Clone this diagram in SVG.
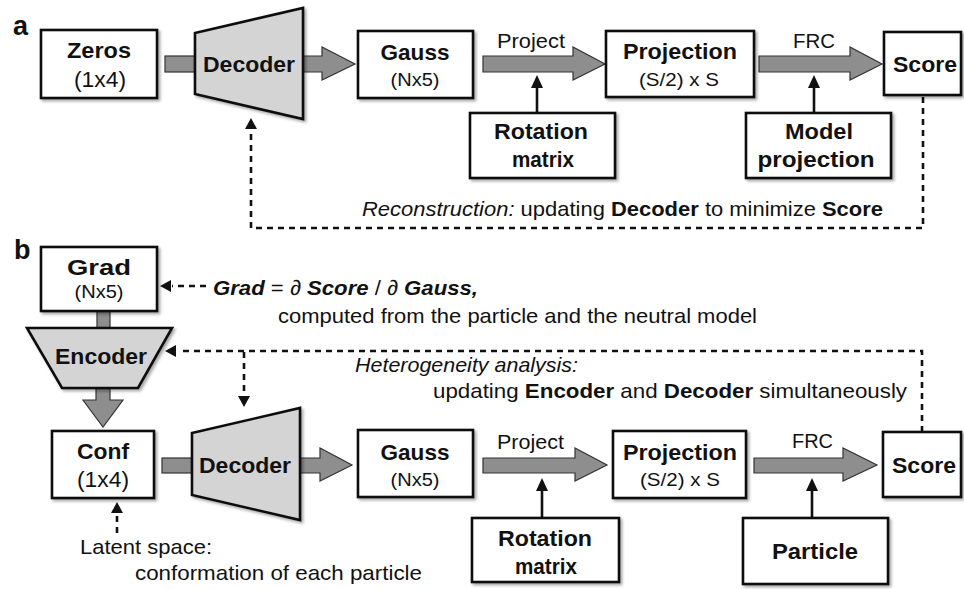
<svg xmlns="http://www.w3.org/2000/svg" width="964" height="589" viewBox="0 0 964 589">
<defs>
<filter id="sh" x="-10%" y="-10%" width="130%" height="130%">
<feDropShadow dx="2" dy="2" stdDeviation="1.5" flood-color="#000" flood-opacity="0.35"/>
</filter>
</defs>
<style>
text{font-family:"Liberation Sans",Arial,Helvetica,sans-serif;fill:#111}
.box{fill:#fff;stroke:#111;stroke-width:2.6;filter:url(#sh)}
.net{fill:#d4d4d4;stroke:#111;stroke-width:2.6;filter:url(#sh)}
.ga{fill:#8e8e8e;stroke:#333;stroke-width:1.2;stroke-linejoin:miter}
.t{font-size:22px;font-weight:bold;text-anchor:middle}
.s{font-size:19px;text-anchor:middle}
.m{font-size:22px;text-anchor:middle}
.l{font-size:21px}
.lab{font-size:27px;font-weight:bold}
.sol{stroke:#111;stroke-width:2.6;fill:none}
.dash{stroke:#111;stroke-width:2.6;fill:none;stroke-dasharray:6 5}
.head{fill:#111}
.b{font-weight:bold}
.i{font-style:italic}
.bi{font-weight:bold;font-style:italic}
</style>

<text class="lab" x="13" y="35">a</text>
<text class="lab" x="14" y="259">b</text>

<!-- connectors -->
<g id="connectors">
  <!-- part a -->
  <rect class="ga" x="165" y="56" width="32" height="16"/>
  <polygon class="ga" points="302,56 322,56 322,47 355,64 322,80 322,72 302,72"/>
  <polygon class="ga" points="483,56 573,56 573,47 605,64 573,80 573,72 483,72"/>
  <polygon class="ga" points="759,56 850,56 850,47 882,64 850,80 850,72 759,72"/>
  <line class="sol" x1="537" y1="113" x2="537" y2="86"/>
  <polygon class="head" points="537,75 531,88 543,88"/>
  <line class="sol" x1="814" y1="113" x2="814" y2="86"/>
  <polygon class="head" points="814,75 808,88 820,88"/>
  <polyline class="dash" points="923,97 923,228 251,228 251,130"/>
  <polygon class="head" points="251,118 245,129 257,129"/>
  <!-- part b -->
  <rect class="ga" x="97" y="310" width="13" height="19"/>
  <polygon class="ga" points="96,387 110,387 110,400 123,400 103,427 83,400 96,400"/>
  <rect class="ga" x="162" y="458" width="32" height="15"/>
  <polygon class="ga" points="299,458 320,458 320,448 352,465 320,481 320,473 299,473"/>
  <polygon class="ga" points="483,458 575,458 575,448 607,465 575,481 575,473 483,473"/>
  <polygon class="ga" points="754,458 843,458 843,448 877,465 843,481 843,473 754,473"/>
  <line class="sol" x1="542" y1="518" x2="542" y2="490"/>
  <polygon class="head" points="542,478 536,491 548,491"/>
  <line class="sol" x1="812" y1="518" x2="812" y2="490"/>
  <polygon class="head" points="812,478 806,491 818,491"/>
  <line class="dash" x1="206" y1="286" x2="172" y2="286"/>
  <polygon class="head" points="160,286 171,280 171,292"/>
  <polyline class="dash" points="922,432 922,351 178,351"/>
  <polygon class="head" points="165,351 176,345 176,357"/>
  <line class="dash" x1="244" y1="352" x2="244" y2="396"/>
  <polygon class="head" points="244,407 238,396 250,396"/>
  <line class="dash" x1="117" y1="533" x2="117" y2="513"/>
  <polygon class="head" points="117,502 111,513 123,513"/>
</g>

<!-- part a nodes -->
<g id="zeros">
  <rect class="box" x="41" y="30" width="116" height="68"/>
  <text class="t" x="99" y="58" textLength="64" lengthAdjust="spacingAndGlyphs">Zeros</text>
  <text class="m" x="100" y="87" textLength="52" lengthAdjust="spacingAndGlyphs">(1x4)</text>
</g>
<g id="decoder-a">
  <polygon class="net" points="195,33 303,8 303,119 195,94"/>
  <text class="t" x="249" y="72" textLength="92" lengthAdjust="spacingAndGlyphs">Decoder</text>
</g>
<g id="gauss-a">
  <rect class="box" x="358" y="31" width="115" height="67"/>
  <text class="t" x="415" y="60" textLength="69" lengthAdjust="spacingAndGlyphs">Gauss</text>
  <text class="s" x="415" y="86" textLength="49" lengthAdjust="spacingAndGlyphs">(Nx5)</text>
</g>
<g id="rotation-a">
  <rect class="box" x="470" y="113" width="145" height="65"/>
  <text class="t" x="541" y="139" textLength="94" lengthAdjust="spacingAndGlyphs">Rotation</text>
  <text class="t" x="543" y="167" textLength="62" lengthAdjust="spacingAndGlyphs">matrix</text>
</g>
<text class="l" x="497" y="48" textLength="68" lengthAdjust="spacingAndGlyphs">Project</text>
<g id="projection-a">
  <rect class="box" x="606" y="31" width="148" height="66"/>
  <text class="t" x="680" y="59" textLength="114" lengthAdjust="spacingAndGlyphs">Projection</text>
  <text class="s" x="679" y="86" textLength="80" lengthAdjust="spacingAndGlyphs">(S/2) x S</text>
</g>
<text class="l" x="793" y="48" textLength="42" lengthAdjust="spacingAndGlyphs">FRC</text>
<g id="model-projection">
  <rect class="box" x="746" y="113" width="145" height="65"/>
  <text class="t" x="819" y="139" textLength="68" lengthAdjust="spacingAndGlyphs">Model</text>
  <text class="t" x="816" y="167" textLength="117" lengthAdjust="spacingAndGlyphs">projection</text>
</g>
<g id="score-a">
  <rect class="box" x="884" y="32" width="77" height="63"/>
  <text class="t" x="925" y="72" textLength="64" lengthAdjust="spacingAndGlyphs">Score</text>
</g>
<text class="l" x="362" y="216" textLength="521" lengthAdjust="spacingAndGlyphs"><tspan class="i">Reconstruction:</tspan> updating <tspan class="b">Decoder</tspan> to minimize <tspan class="b">Score</tspan></text>

<!-- part b nodes -->
<g id="grad">
  <rect class="box" x="41" y="247" width="116" height="64"/>
  <text class="t" x="99" y="275" textLength="64" lengthAdjust="spacingAndGlyphs">Grad</text>
  <text class="s" x="99" y="298" textLength="49" lengthAdjust="spacingAndGlyphs">(Nx5)</text>
</g>
<text class="l" x="213" y="295" textLength="265" lengthAdjust="spacingAndGlyphs"><tspan class="bi">Grad</tspan> = ∂ <tspan class="bi">Score</tspan> / ∂ <tspan class="bi">Gauss,</tspan></text>
<text class="l" x="278" y="323" textLength="479" lengthAdjust="spacingAndGlyphs">computed from the particle and the neutral model</text>
<g id="encoder">
  <polygon class="net" points="27,328 172,328 138,388 62,388"/>
  <text class="t" x="101" y="364" textLength="92" lengthAdjust="spacingAndGlyphs">Encoder</text>
</g>
<text class="l i" x="355" y="372" textLength="223" lengthAdjust="spacingAndGlyphs">Heterogeneity analysis:</text>
<text class="l" x="433" y="398" textLength="474" lengthAdjust="spacingAndGlyphs">updating <tspan class="b">Encoder</tspan> and <tspan class="b">Decoder</tspan> simultaneously</text>
<g id="conf">
  <rect class="box" x="52" y="431" width="102" height="67"/>
  <text class="t" x="103" y="459" textLength="52" lengthAdjust="spacingAndGlyphs">Conf</text>
  <text class="m" x="103" y="487" textLength="52" lengthAdjust="spacingAndGlyphs">(1x4)</text>
</g>
<text class="l" x="80" y="554" textLength="132" lengthAdjust="spacingAndGlyphs">Latent space:</text>
<text class="l" x="135" y="580" textLength="287" lengthAdjust="spacingAndGlyphs">conformation of each particle</text>
<g id="decoder-b">
  <polygon class="net" points="192,433 300,408 300,520 192,495"/>
  <text class="t" x="245" y="473" textLength="92" lengthAdjust="spacingAndGlyphs">Decoder</text>
</g>
<g id="gauss-b">
  <rect class="box" x="358" y="430" width="115" height="67"/>
  <text class="t" x="415" y="460" textLength="69" lengthAdjust="spacingAndGlyphs">Gauss</text>
  <text class="s" x="415" y="486" textLength="49" lengthAdjust="spacingAndGlyphs">(Nx5)</text>
</g>
<text class="l" x="497" y="449" textLength="67" lengthAdjust="spacingAndGlyphs">Project</text>
<g id="rotation-b">
  <rect class="box" x="472" y="518" width="147" height="64"/>
  <text class="t" x="545" y="546" textLength="94" lengthAdjust="spacingAndGlyphs">Rotation</text>
  <text class="t" x="546" y="574" textLength="62" lengthAdjust="spacingAndGlyphs">matrix</text>
</g>
<g id="projection-b">
  <rect class="box" x="613" y="431" width="133" height="67"/>
  <text class="t" x="680" y="460" textLength="114" lengthAdjust="spacingAndGlyphs">Projection</text>
  <text class="s" x="680" y="486" textLength="80" lengthAdjust="spacingAndGlyphs">(S/2) x S</text>
</g>
<text class="l" x="792" y="448" textLength="41" lengthAdjust="spacingAndGlyphs">FRC</text>
<g id="particle">
  <rect class="box" x="743" y="518" width="145" height="66"/>
  <text class="t" x="815" y="559" textLength="86" lengthAdjust="spacingAndGlyphs">Particle</text>
</g>
<g id="score-b">
  <rect class="box" x="883" y="432" width="78" height="65"/>
  <text class="t" x="924" y="473" textLength="64" lengthAdjust="spacingAndGlyphs">Score</text>
</g>
</svg>
